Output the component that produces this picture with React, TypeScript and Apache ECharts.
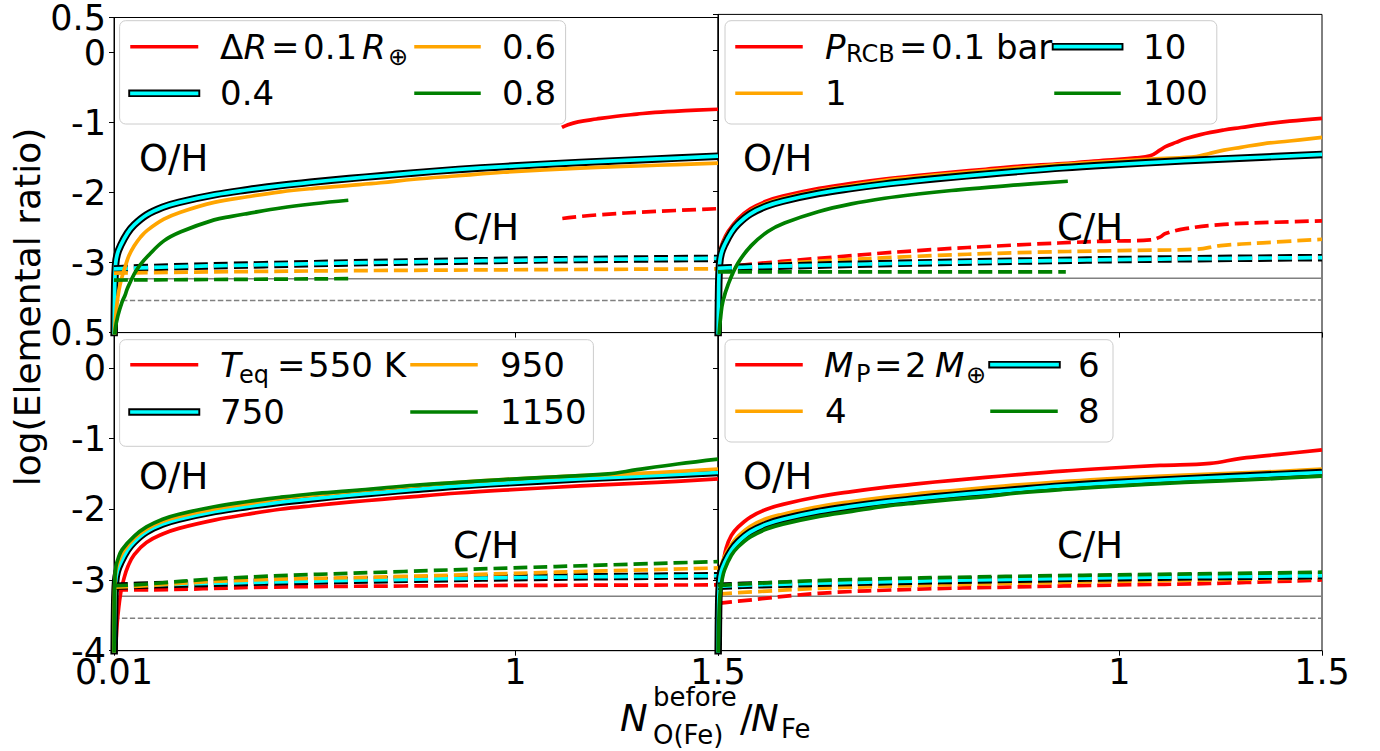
import React, { useEffect, useRef } from "react";
import * as echarts from "echarts";

// ---------- axes ----------
const X_MIN = 0.01;
const X_MAX = 1.5;
const Y_MIN = -4;
const Y_MAX = 0.5;
const X_TICKS = [0.01, 1, 1.5];
const X_LABELS_LEFT = [0.01, 1, 1.5];
const X_LABELS_RIGHT = [1, 1.5];
const Y_TICKS_TOP = [0.5, 0, -1, -2, -3];
const Y_TICKS_BOTTOM = [0.5, 0, -1, -2, -3, -4];

// ---------- gray reference levels ----------
const REF_SOLID = -3.23;
const REF_DASHED = -3.54;

// ---------- fiducial model (cyan, same in every panel) ----------
const FID_OH: [number, number][] = [[0.01, -4.3], [0.0117, -3.35], [0.014, -3.02], [0.018, -2.88], [0.026, -2.76], [0.043, -2.58], [0.06, -2.46], [0.09, -2.32], [0.13, -2.21], [0.17, -2.14], [0.26, -2.03], [0.34, -1.96], [0.42, -1.9], [0.5, -1.85], [0.59, -1.8], [0.67, -1.76], [0.75, -1.72], [0.86, -1.67], [0.97, -1.63], [1.16, -1.57], [1.35, -1.52], [1.5, -1.48]];
const FID_CH: [number, number][] = [[0.01, -3.09], [0.1, -3.07], [0.38, -3.03], [0.74, -2.99], [1.1, -2.96], [1.5, -2.94]];

// ---------- panel a: Delta R ----------
const DR01_OH: [number, number][] = [[1.115, -1.07], [1.13, -1.03], [1.155, -0.99], [1.2, -0.95], [1.25, -0.91], [1.3, -0.88], [1.345, -0.855], [1.42, -0.83], [1.5, -0.81]];
const DR01_CH: [number, number][] = [[1.116, -2.37], [1.2, -2.32], [1.345, -2.27], [1.5, -2.23]];
const DR06_OH: [number, number][] = [[0.01, -4.3], [0.012, -3.95], [0.016, -3.65], [0.022, -3.4], [0.03, -3.2], [0.038, -3.05], [0.047, -2.9], [0.06, -2.76], [0.075, -2.64], [0.092, -2.54], [0.133, -2.38], [0.174, -2.28], [0.257, -2.14], [0.339, -2.06], [0.421, -1.99], [0.503, -1.94], [0.586, -1.9], [0.668, -1.86], [0.75, -1.81], [0.86, -1.76], [0.97, -1.71], [1.16, -1.65], [1.35, -1.61], [1.5, -1.58]];
const DR06_CH: [number, number][] = [[0.01, -3.15], [0.3, -3.13], [0.75, -3.11], [1.5, -3.09]];
const DR08_OH: [number, number][] = [[0.01, -4.3], [0.013, -3.96], [0.02, -3.75], [0.03, -3.56], [0.037, -3.47], [0.043, -3.37], [0.06, -3.16], [0.075, -3.03], [0.093, -2.91], [0.133, -2.69], [0.175, -2.56], [0.257, -2.39], [0.3, -2.34], [0.339, -2.3], [0.421, -2.22], [0.503, -2.16], [0.588, -2.11]];
const DR08_CH: [number, number][] = [[0.01, -3.25], [0.3, -3.24], [0.588, -3.23]];

// ---------- panel b: P_RCB ----------
const P01_OH: [number, number][] = [[0.01, -4.3], [0.0112, -3.3], [0.013, -2.98], [0.016, -2.83], [0.022, -2.72], [0.035, -2.57], [0.06, -2.39], [0.09, -2.25], [0.13, -2.14], [0.17, -2.07], [0.26, -1.96], [0.34, -1.89], [0.42, -1.83], [0.5, -1.78], [0.59, -1.73], [0.67, -1.69], [0.75, -1.65], [0.86, -1.61], [0.97, -1.56], [1.04, -1.53], [1.076, -1.5], [1.1, -1.42], [1.114, -1.37], [1.14, -1.31], [1.163, -1.26], [1.2, -1.2], [1.258, -1.135], [1.3, -1.1], [1.354, -1.055], [1.42, -1.01], [1.5, -0.97]];
const P01_CH: [number, number][] = [[0.01, -3.08], [0.076, -3.04], [0.257, -2.95], [0.503, -2.84], [0.75, -2.76], [0.95, -2.71], [1.076, -2.69], [1.1, -2.65], [1.114, -2.6], [1.163, -2.53], [1.258, -2.47], [1.38, -2.44], [1.5, -2.42]];
const P1_OH: [number, number][] = [[0.01, -4.3], [0.0112, -3.2], [0.013, -2.95], [0.016, -2.84], [0.022, -2.75], [0.035, -2.6], [0.06, -2.42], [0.09, -2.28], [0.13, -2.17], [0.17, -2.1], [0.26, -1.99], [0.34, -1.92], [0.42, -1.85], [0.5, -1.8], [0.59, -1.75], [0.67, -1.71], [0.75, -1.67], [0.86, -1.62], [0.97, -1.58], [1.1, -1.54], [1.19, -1.51], [1.22, -1.47], [1.258, -1.42], [1.3, -1.38], [1.354, -1.33], [1.42, -1.29], [1.5, -1.24]];
const P1_CH: [number, number][] = [[0.01, -3.09], [0.1, -3.05], [0.257, -2.99], [0.503, -2.92], [0.75, -2.87], [1.0, -2.84], [1.19, -2.82], [1.25, -2.77], [1.354, -2.73], [1.5, -2.68]];
const P100_OH: [number, number][] = [[0.01, -4.3], [0.013, -4.0], [0.017, -3.75], [0.022, -3.56], [0.035, -3.32], [0.059, -3.02], [0.092, -2.77], [0.133, -2.57], [0.174, -2.45], [0.257, -2.29], [0.339, -2.18], [0.421, -2.1], [0.503, -2.04], [0.586, -1.99], [0.668, -1.95], [0.75, -1.91], [0.873, -1.86]];
const P100_CH: [number, number][] = [[0.01, -3.14], [0.4, -3.14], [0.868, -3.14]];

// ---------- panel c: T_eq ----------
const T550_OH: [number, number][] = [[0.01, -4.3], [0.014, -4.0], [0.018, -3.6], [0.026, -3.2], [0.035, -2.97], [0.045, -2.8], [0.06, -2.64], [0.09, -2.47], [0.13, -2.35], [0.17, -2.27], [0.26, -2.15], [0.34, -2.07], [0.42, -2.0], [0.5, -1.95], [0.59, -1.9], [0.67, -1.86], [0.75, -1.82], [0.86, -1.77], [0.97, -1.73], [1.16, -1.67], [1.35, -1.62], [1.5, -1.57]];
const T550_CH: [number, number][] = [[0.01, -3.14], [0.06, -3.14], [0.4, -3.1], [0.725, -3.085], [1.1, -3.075], [1.5, -3.07]];
const T950_OH: [number, number][] = [[0.01, -4.3], [0.0112, -3.2], [0.013, -2.95], [0.016, -2.83], [0.022, -2.72], [0.035, -2.58], [0.06, -2.41], [0.09, -2.28], [0.13, -2.17], [0.17, -2.1], [0.26, -1.99], [0.34, -1.92], [0.42, -1.85], [0.5, -1.8], [0.59, -1.75], [0.67, -1.71], [0.75, -1.67], [0.86, -1.62], [0.97, -1.58], [1.16, -1.525], [1.35, -1.48], [1.5, -1.43]];
const T950_CH: [number, number][] = [[0.01, -3.1], [0.06, -3.09], [0.3, -3.01], [0.725, -2.95], [1.1, -2.89], [1.5, -2.83]];
const T1150_OH: [number, number][] = [[0.01, -4.3], [0.011, -3.3], [0.0125, -2.95], [0.015, -2.8], [0.02, -2.7], [0.03, -2.57], [0.06, -2.38], [0.09, -2.25], [0.13, -2.14], [0.17, -2.07], [0.26, -1.96], [0.34, -1.89], [0.42, -1.83], [0.5, -1.78], [0.59, -1.74], [0.67, -1.7], [0.75, -1.66], [0.86, -1.62], [0.97, -1.58], [1.1, -1.54], [1.229, -1.5], [1.3, -1.44], [1.4, -1.36], [1.5, -1.29]];
const T1150_CH: [number, number][] = [[0.01, -3.08], [0.06, -3.07], [0.3, -2.97], [0.725, -2.88], [1.1, -2.81], [1.5, -2.74]];

// ---------- panel d: M_P ----------
const M2_OH: [number, number][] = [[0.01, -4.3], [0.0108, -3.5], [0.012, -3.3], [0.016, -2.95], [0.022, -2.78], [0.03, -2.55], [0.043, -2.37], [0.06, -2.25], [0.09, -2.11], [0.13, -2.0], [0.17, -1.93], [0.26, -1.82], [0.34, -1.75], [0.42, -1.69], [0.5, -1.64], [0.59, -1.59], [0.67, -1.55], [0.75, -1.51], [0.86, -1.46], [0.97, -1.42], [1.1, -1.38], [1.224, -1.35], [1.3, -1.28], [1.4, -1.22], [1.5, -1.16]];
const M2_CH: [number, number][] = [[0.01, -3.33], [0.06, -3.3], [0.257, -3.19], [0.503, -3.13], [0.725, -3.1], [1.0, -3.07], [1.224, -3.05], [1.5, -3.0]];
const M4_OH: [number, number][] = [[0.01, -4.3], [0.0115, -3.25], [0.014, -2.93], [0.018, -2.8], [0.026, -2.67], [0.043, -2.5], [0.06, -2.38], [0.09, -2.24], [0.13, -2.13], [0.17, -2.07], [0.26, -1.96], [0.34, -1.89], [0.42, -1.83], [0.5, -1.78], [0.59, -1.735], [0.67, -1.695], [0.75, -1.655], [0.86, -1.61], [0.97, -1.57], [1.16, -1.515], [1.35, -1.475], [1.5, -1.43]];
const M4_CH: [number, number][] = [[0.01, -3.2], [0.06, -3.18], [0.3, -3.11], [0.72, -3.05], [1.1, -3.01], [1.5, -2.97]];
const M8_OH: [number, number][] = [[0.01, -4.3], [0.012, -3.6], [0.015, -3.2], [0.02, -3.0], [0.026, -2.86], [0.043, -2.65], [0.06, -2.53], [0.09, -2.39], [0.13, -2.28], [0.17, -2.21], [0.26, -2.1], [0.34, -2.03], [0.42, -1.96], [0.5, -1.91], [0.59, -1.86], [0.67, -1.82], [0.75, -1.77], [0.86, -1.72], [0.97, -1.68], [1.16, -1.62], [1.35, -1.575], [1.5, -1.53]];
const M8_CH: [number, number][] = [[0.01, -3.08], [0.06, -3.06], [0.3, -3.0], [0.72, -2.95], [1.1, -2.92], [1.5, -2.89]];

// ---------- styling ----------
const RED = "#ff0000";
const ORANGE = "#ffa500";
const CYAN = "#00ffff";
const GREEN = "#008000";
const GRAY = "#808080";
const FONT = '"DejaVu Sans", sans-serif';
const DASH = [14, 6];

type Curve = { color: string; oh: [number, number][]; ch: [number, number][]; fid?: boolean };

const PANELS: { curves: Curve[] }[] = [
  { curves: [ { color: RED, oh: DR01_OH, ch: DR01_CH }, { color: CYAN, oh: FID_OH, ch: FID_CH, fid: true }, { color: ORANGE, oh: DR06_OH, ch: DR06_CH }, { color: GREEN, oh: DR08_OH, ch: DR08_CH } ] },
  { curves: [ { color: RED, oh: P01_OH, ch: P01_CH }, { color: ORANGE, oh: P1_OH, ch: P1_CH }, { color: CYAN, oh: FID_OH, ch: FID_CH, fid: true }, { color: GREEN, oh: P100_OH, ch: P100_CH } ] },
  { curves: [ { color: RED, oh: T550_OH, ch: T550_CH }, { color: CYAN, oh: FID_OH, ch: FID_CH, fid: true }, { color: ORANGE, oh: T950_OH, ch: T950_CH }, { color: GREEN, oh: T1150_OH, ch: T1150_CH } ] },
  { curves: [ { color: RED, oh: M2_OH, ch: M2_CH }, { color: ORANGE, oh: M4_OH, ch: M4_CH }, { color: CYAN, oh: FID_OH, ch: FID_CH, fid: true }, { color: GREEN, oh: M8_OH, ch: M8_CH } ] },
];

// grid geometry (pixels)
const G_LEFT = [114, 718, 114, 718];
const G_TOP = [14.4, 14.4, 332.5, 332.5];
const G_W = 604;
const G_H = 318.2;

function line(gi: number, data: any, color: string, width: number, dash: any) {
  return {
    type: "line",
    xAxisIndex: gi,
    yAxisIndex: gi,
    data,
    symbol: "none",
    showSymbol: false,
    smooth: 0.4,
    clip: true,
    silent: true,
    lineStyle: { color, width, type: dash, cap: "butt", join: "round" },
  };
}

function fmt(v: number) {
  if (Math.abs(v - 0.01) < 1e-9) return "0.01";
  return String(v);
}

function txt(text: string, x: number, y: number, size: number, o: any = {}) {
  return {
    type: "text",
    x,
    y,
    z: 110,
    rotation: o.rotation || 0,
    style: {
      text,
      fontSize: size,
      fontFamily: FONT,
      fontStyle: o.italic ? "italic" : "normal",
      fill: "#000",
      align: o.align || "left",
      verticalAlign: "middle",
    },
  };
}

function seg(x1: number, x2: number, y: number, color: string, fid?: boolean) {
  if (fid) {
    return [
      { type: "line", z: 105, shape: { x1, y1: y, x2, y2: y }, style: { stroke: "#000", lineWidth: 7.5, lineCap: "square" } },
      { type: "line", z: 106, shape: { x1, y1: y, x2, y2: y }, style: { stroke: CYAN, lineWidth: 3.7, lineCap: "square" } },
    ];
  }
  return [{ type: "line", z: 105, shape: { x1, y1: y, x2, y2: y }, style: { stroke: color, lineWidth: 3.5, lineCap: "square" } }];
}

function box(x: number, y: number, w: number, h: number) {
  return { type: "rect", z: 100, shape: { x, y, width: w, height: h, r: 6 }, style: { fill: "rgba(255,255,255,0.8)", stroke: "#cccccc", lineWidth: 1 } };
}

const LS = 34; // legend font size
const SUB = 24;
const ANN = 37;

function buildGraphics() {
  const g: any[] = [];
  // ---- legend a (Delta R) ----
  g.push(box(119.6, 20.7, 446, 103.3));
  g.push(...seg(132, 196.5, 46.7, RED));
  g.push(txt("Δ", 220, 46.7, LS), txt("R", 243.5, 46.7, LS, { italic: true }), txt("=", 271, 46.7, LS), txt("0.1", 303, 46.7, LS), txt("R", 362, 46.7, LS, { italic: true }), txt("⊕", 388, 56.5, SUB));
  g.push(...seg(132, 196.5, 93.3, CYAN, true));
  g.push(txt("0.4", 220, 93.3, LS));
  g.push(...seg(416, 479, 46.7, ORANGE));
  g.push(txt("0.6", 502, 46.7, LS));
  g.push(...seg(416, 479, 93.3, GREEN));
  g.push(txt("0.8", 502, 93.3, LS));

  // ---- legend b (P_RCB) ----
  g.push(box(725, 20.7, 491.8, 103.3));
  g.push(...seg(737, 801, 46.7, RED));
  g.push(txt("P", 825, 46.7, LS, { italic: true }), txt("RCB", 846, 54, SUB), txt("=", 899, 46.7, LS), txt("0.1 bar", 931, 46.7, LS));
  g.push(...seg(1055.5, 1119.7, 46.7, CYAN, true));
  g.push(txt("10", 1143, 46.7, LS));
  g.push(...seg(737, 801, 93.3, ORANGE));
  g.push(txt("1", 825, 93.3, LS));
  g.push(...seg(1056, 1119, 93.3, GREEN));
  g.push(txt("100", 1143, 93.3, LS));

  // ---- legend c (T_eq) ----
  g.push(box(119.6, 339.7, 473.8, 106.6));
  g.push(...seg(132, 196.5, 364.7, RED));
  g.push(txt("T", 220, 364.7, LS, { italic: true }), txt("eq", 239, 375, SUB), txt("=", 277, 364.7, LS), txt("550 K", 308, 364.7, LS));
  g.push(...seg(132, 196.5, 412, CYAN, true));
  g.push(txt("750", 220, 412, LS));
  g.push(...seg(412, 476, 364.7, ORANGE));
  g.push(txt("950", 500, 364.7, LS));
  g.push(...seg(412, 476, 412, GREEN));
  g.push(txt("1150", 500, 412, LS));

  // ---- legend d (M_P) ----
  g.push(box(725, 339.7, 388, 102.3));
  g.push(...seg(737, 801, 364.7, RED));
  g.push(txt("M", 824, 364.7, LS, { italic: true }), txt("P", 856, 374, SUB), txt("=", 874, 364.7, LS), txt("2", 905, 364.7, LS), txt("M", 935, 364.7, LS, { italic: true }), txt("⊕", 966, 374.5, SUB));
  g.push(...seg(992, 1057, 364.7, CYAN, true));
  g.push(txt("6", 1078, 364.7, LS));
  g.push(...seg(737, 801, 411.3, ORANGE));
  g.push(txt("4", 825, 411.3, LS));
  g.push(...seg(992, 1056, 411.3, GREEN));
  g.push(txt("8", 1078, 411.3, LS));

  // ---- O/H, C/H annotations ----
  for (const dx of [0, 604]) {
    g.push(txt("O/H", 139 + dx, 158, ANN));
    g.push(txt("C/H", 453 + dx, 227, ANN));
    g.push(txt("O/H", 139 + dx, 476, ANN));
    g.push(txt("C/H", 453 + dx, 545.5, ANN));
  }

  // ---- axis titles ----
  g.push(txt("log(Elemental ratio)", 27, 307, 36, { align: "center", rotation: Math.PI / 2 }));
  g.push(txt("N", 620, 718, 37, { italic: true }));
  g.push(txt("before", 653, 697, 26));
  g.push(txt("O(Fe)", 653, 735, 26));
  g.push(txt("/", 740, 718, 37));
  g.push(txt("N", 751, 718, 37, { italic: true }));
  g.push(txt("Fe", 781, 729, 26));
  return g;
}

export default function App() {
  const ref = useRef<HTMLDivElement>(null);
  useEffect(() => {
    if (!ref.current) return;
    const chart = echarts.init(ref.current, null, { renderer: "svg" });
    const grids: any[] = [];
    const xAxes: any[] = [];
    const yAxes: any[] = [];
    const series: any[] = [];
    for (let gi = 0; gi < 4; gi++) {
      const isLeft = gi % 2 === 0;
      const isBottom = gi >= 2;
      grids.push({ left: G_LEFT[gi], top: G_TOP[gi], width: G_W, height: G_H, show: true, borderColor: "#000", borderWidth: 1, backgroundColor: "transparent" });
      xAxes.push({
        gridIndex: gi,
        type: "value",
        min: X_MIN,
        max: X_MAX,
        axisLine: { show: true, onZero: false, lineStyle: { color: "#000", width: 1 } },
        axisTick: { show: true, customValues: X_TICKS, length: 5, lineStyle: { color: "#000", width: 1 } },
        axisLabel: { show: isBottom, customValues: isLeft ? X_LABELS_LEFT : X_LABELS_RIGHT, formatter: fmt, fontSize: 35, lineHeight: 26, fontFamily: FONT, color: "#000", margin: 8, showMinLabel: true, showMaxLabel: true, hideOverlap: false },
        splitLine: { show: false },
      });
      const yt = isBottom ? Y_TICKS_BOTTOM : Y_TICKS_TOP;
      yAxes.push({
        gridIndex: gi,
        type: "value",
        min: Y_MIN,
        max: Y_MAX,
        axisLine: { show: true, onZero: false, lineStyle: { color: "#000", width: 1 } },
        axisTick: { show: true, customValues: yt, length: 5, lineStyle: { color: "#000", width: 1 } },
        axisLabel: { show: isLeft, customValues: yt, formatter: (v: number) => String(v), fontSize: 35, lineHeight: 26, fontFamily: FONT, color: "#000", margin: 8, showMinLabel: true, showMaxLabel: true, hideOverlap: false },
        splitLine: { show: false },
      });
      series.push(line(gi, [[X_MIN, REF_SOLID], [X_MAX, REF_SOLID]], GRAY, 1.5, "solid"));
      series.push(line(gi, [[X_MIN, REF_DASHED], [X_MAX, REF_DASHED]], GRAY, 1.5, [5.5, 2.5]));
      for (const c of PANELS[gi].curves) {
        if (c.fid) {
          series.push(line(gi, c.oh, "#000", 7.5, "solid"));
          series.push(line(gi, c.oh, CYAN, 3.7, "solid"));
          series.push(line(gi, c.ch, "#000", 7.5, DASH));
          series.push(line(gi, c.ch, CYAN, 3.7, DASH));
        } else {
          series.push(line(gi, c.oh, c.color, 3.7, "solid"));
          series.push(line(gi, c.ch, c.color, 3.7, DASH));
        }
      }
    }
    chart.setOption({
      animation: false,
      backgroundColor: "#fff",
      grid: grids,
      xAxis: xAxes,
      yAxis: yAxes,
      series,
      graphic: buildGraphics(),
    });
    return () => chart.dispose();
  }, []);
  return <div ref={ref} style={{ position: "fixed", left: 0, top: 0, width: 1380, height: 751 }} />;
}
